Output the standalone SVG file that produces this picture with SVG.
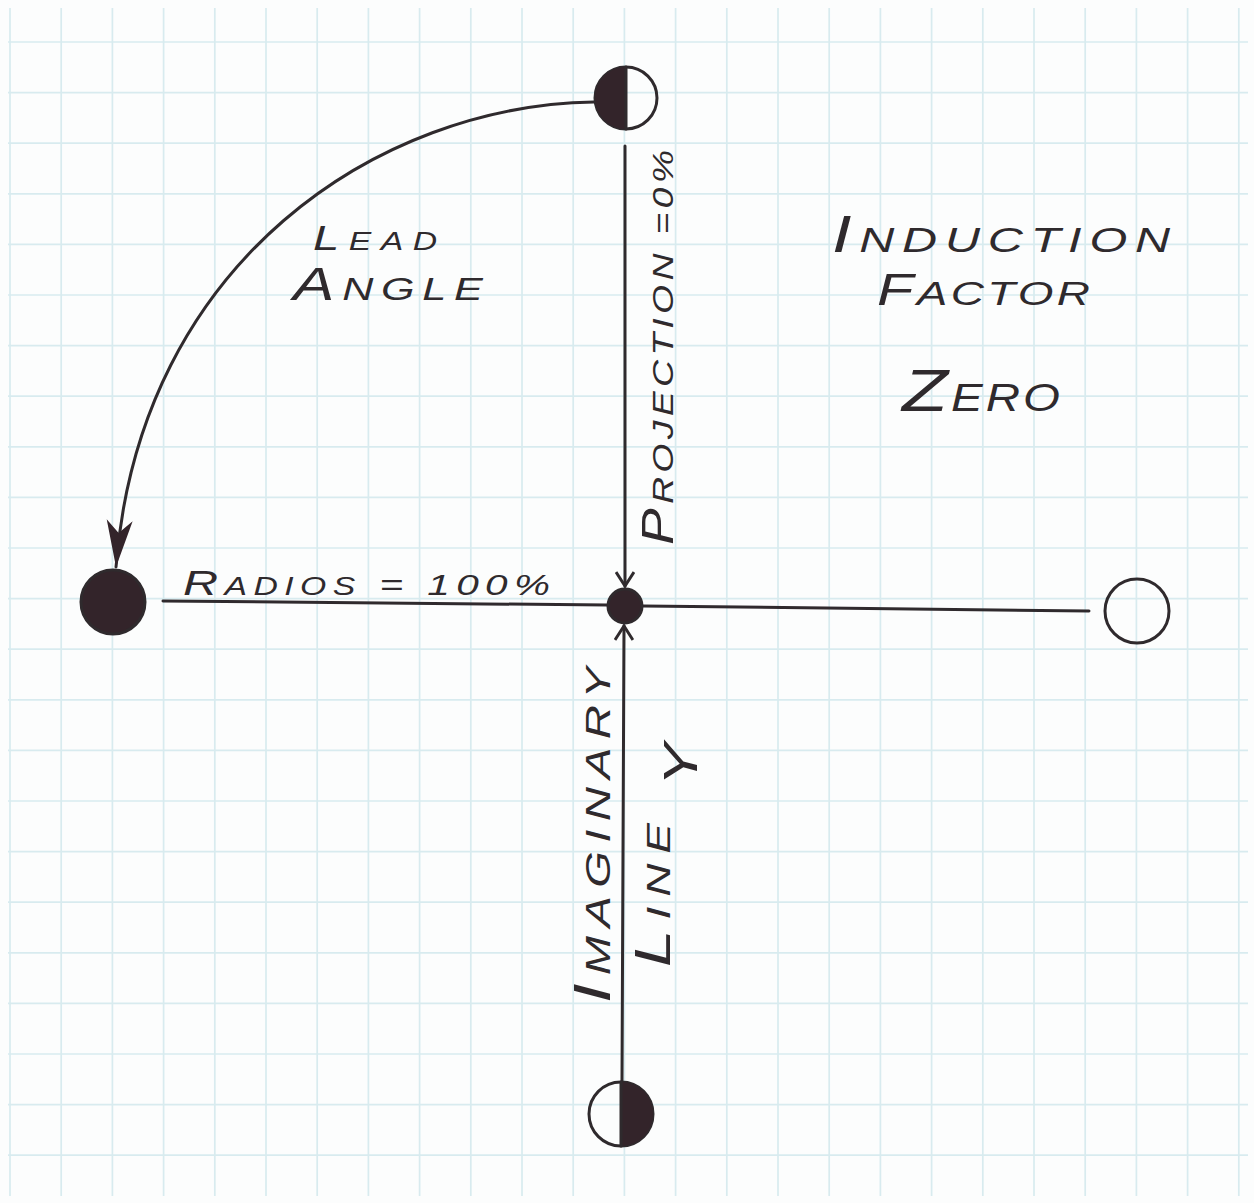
<svg xmlns="http://www.w3.org/2000/svg" width="1254" height="1203" viewBox="0 0 1254 1203">
<style>
.grid{stroke:#d8ebef;stroke-width:1.7;fill:none}
.ink{stroke:#2f2a2d;stroke-width:3;fill:none;stroke-linecap:round}
.dark{fill:#33242a;stroke:#2f2a2d;stroke-width:3}
.rim{fill:none;stroke:#2f2a2d;stroke-width:3}
.half{fill:#33242a}
.hand{font-family:"Liberation Sans",Arial,sans-serif;font-style:italic;fill:#2f2a2d}
</style>
<defs>
<marker id="vee" markerUnits="userSpaceOnUse" viewBox="0 0 20 20" markerWidth="20" markerHeight="20" refX="18" refY="10" orient="auto">
<path d="M4,1 L18,10 L4,19" fill="none" stroke="#2f2a2d" stroke-width="3"/>
</marker>
<marker id="dart" markerUnits="userSpaceOnUse" viewBox="0 0 48 30" markerWidth="48" markerHeight="30" refX="47" refY="15" orient="auto">
<path d="M0,2 L47,15 L0,28 L13,15 Z" fill="#33242a"/>
</marker>
</defs>
<rect width="1254" height="1203" fill="#fcfdfd"/>
<g id="grid" class="grid">
<path d="M10,8V1196 M61.2,8V1196 M112.4,8V1196 M163.6,8V1196 M214.8,8V1196 M266,8V1196 M317.2,8V1196 M368.4,8V1196 M419.6,8V1196 M470.8,8V1196 M522,8V1196 M573.2,8V1196 M624.4,8V1196 M675.6,8V1196 M726.8,8V1196 M778,8V1196 M829.2,8V1196 M880.4,8V1196 M931.6,8V1196 M982.8,8V1196 M1034,8V1196 M1085.2,8V1196 M1136.4,8V1196 M1187.6,8V1196 M1238.8,8V1196"/>
<path d="M8,42H1248 M8,92.6H1248 M8,143.2H1248 M8,193.8H1248 M8,244.4H1248 M8,295H1248 M8,345.6H1248 M8,396.2H1248 M8,446.8H1248 M8,497.4H1248 M8,548H1248 M8,598.6H1248 M8,649.2H1248 M8,699.8H1248 M8,750.4H1248 M8,801H1248 M8,851.6H1248 M8,902.2H1248 M8,952.8H1248 M8,1003.4H1248 M8,1054H1248 M8,1104.6H1248 M8,1155.2H1248"/>
</g>
<g id="connectors">
<path class="ink" d="M625,146 L625,586" marker-end="url(#vee)"/>
<path class="ink" d="M622,1081 L624,626" marker-end="url(#vee)"/>
<path class="ink" d="M163,601 L607,605"/>
<path class="ink" d="M643,606 L1089,611"/>
<path class="ink" d="M594,102 C380,105 140,260 116,567" marker-end="url(#dart)"/>
</g>
<g id="node-top">
<circle class="rim" cx="626" cy="98" r="31"/>
<path class="half" d="M626,67 A31,31 0 0,0 626,129 Z"/>
<line class="ink" x1="626" y1="67" x2="626" y2="129"/>
</g>
<g id="node-left">
<circle class="dark" cx="113" cy="602" r="32"/>
</g>
<g id="node-center">
<circle class="dark" cx="625" cy="606" r="17"/>
</g>
<g id="node-right">
<circle class="rim" cx="1137" cy="611" r="32"/>
</g>
<g id="node-bottom">
<circle class="rim" cx="621" cy="1114" r="32"/>
<path class="half" d="M621,1082 A32,32 0 0,1 621,1146 Z"/>
<line class="ink" x1="621" y1="1082" x2="621" y2="1146"/>
</g>
<g id="labels" class="hand">
<text transform="translate(313,250) scale(1.35,1)" textLength="91.9" lengthAdjust="spacing"><tspan font-size="35">L</tspan><tspan font-size="25">EAD</tspan></text>
<text transform="translate(293,300) scale(1.35,1)" textLength="140.7" lengthAdjust="spacing"><tspan font-size="46">A</tspan><tspan font-size="32">NGLE</tspan></text>
<text transform="translate(832,252) scale(1.35,1)" textLength="250.4" lengthAdjust="spacing"><tspan font-size="52">I</tspan><tspan font-size="36">NDUCTION</tspan></text>
<text transform="translate(877,305) scale(1.35,1)" textLength="157.8" lengthAdjust="spacing"><tspan font-size="44">F</tspan><tspan font-size="34">ACTOR</tspan></text>
<text transform="translate(902,411) scale(1.25,1)" textLength="126.4" lengthAdjust="spacing"><tspan font-size="60">Z</tspan><tspan font-size="38">ERO</tspan></text>
<text transform="translate(183,595) scale(1.35,1)" textLength="271.9" lengthAdjust="spacing"><tspan font-size="36">R</tspan><tspan font-size="25">ADIOS</tspan><tspan font-size="30"> = 100%</tspan></text>
<text transform="translate(673,545) rotate(-90) scale(1.25,1)" textLength="316" lengthAdjust="spacing"><tspan font-size="44">P</tspan><tspan font-size="30">ROJECTION =0%</tspan></text>
<text transform="translate(610,1003) rotate(-90) scale(1.35,1)" textLength="248.9" lengthAdjust="spacing"><tspan font-size="52">I</tspan><tspan font-size="35">MAGINARY</tspan></text>
<text transform="translate(670,967) rotate(-90) scale(1.35,1)" textLength="165.9" lengthAdjust="spacing"><tspan font-size="50">L</tspan><tspan font-size="34">INE</tspan><tspan font-size="48" dy="27"> Y</tspan></text>
</g>
</svg>
